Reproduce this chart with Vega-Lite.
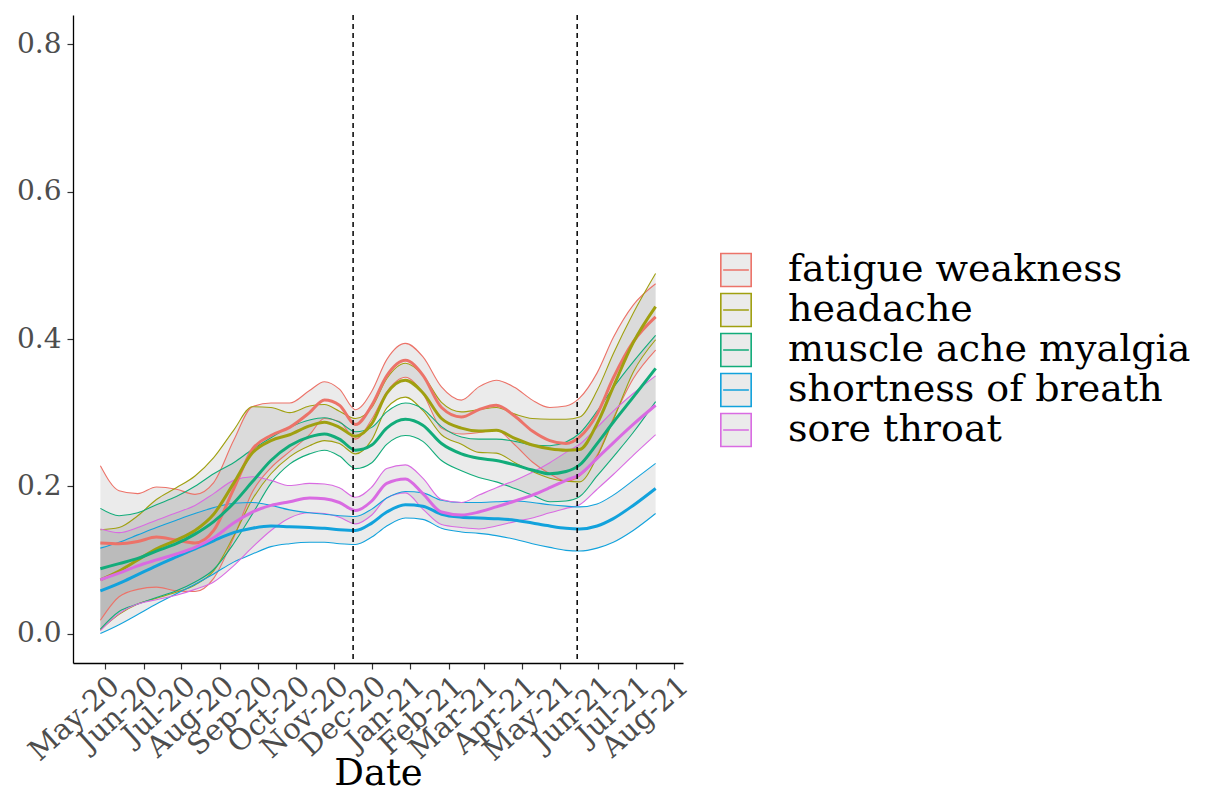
{
  "$schema": "https://vega.github.io/schema/vega-lite/v6.json",
  "width": 610,
  "height": 648,
  "autosize": {"type": "none"},
  "padding": {"left": 73, "top": 15, "right": 537, "bottom": 131},
  "background": "white",
  "config": {"view": {"stroke": null}, "font": "DejaVu Serif"},
  "datasets": {
    "vlines": [{"d": "2020-11-16"}, {"d": "2021-05-15"}],
    "smooth": [
      {"s":"fatigue weakness","date":"2020-04-27","lo":0.018,"mean":0.123,"hi":0.228},
      {"s":"fatigue weakness","date":"2020-05-12","lo":0.050,"mean":0.122,"hi":0.194},
      {"s":"fatigue weakness","date":"2020-05-27","lo":0.060,"mean":0.125,"hi":0.190},
      {"s":"fatigue weakness","date":"2020-06-11","lo":0.063,"mean":0.131,"hi":0.199},
      {"s":"fatigue weakness","date":"2020-06-27","lo":0.058,"mean":0.127,"hi":0.196},
      {"s":"fatigue weakness","date":"2020-07-12","lo":0.057,"mean":0.123,"hi":0.189},
      {"s":"fatigue weakness","date":"2020-07-27","lo":0.075,"mean":0.140,"hi":0.205},
      {"s":"fatigue weakness","date":"2020-08-12","lo":0.130,"mean":0.196,"hi":0.262},
      {"s":"fatigue weakness","date":"2020-08-27","lo":0.192,"mean":0.250,"hi":0.308},
      {"s":"fatigue weakness","date":"2020-09-11","lo":0.225,"mean":0.269,"hi":0.313},
      {"s":"fatigue weakness","date":"2020-09-26","lo":0.247,"mean":0.280,"hi":0.313},
      {"s":"fatigue weakness","date":"2020-10-12","lo":0.270,"mean":0.300,"hi":0.330},
      {"s":"fatigue weakness","date":"2020-10-24","lo":0.292,"mean":0.317,"hi":0.342},
      {"s":"fatigue weakness","date":"2020-11-05","lo":0.288,"mean":0.310,"hi":0.332},
      {"s":"fatigue weakness","date":"2020-11-18","lo":0.264,"mean":0.284,"hi":0.304},
      {"s":"fatigue weakness","date":"2020-12-01","lo":0.291,"mean":0.310,"hi":0.329},
      {"s":"fatigue weakness","date":"2020-12-13","lo":0.328,"mean":0.350,"hi":0.372},
      {"s":"fatigue weakness","date":"2020-12-28","lo":0.348,"mean":0.371,"hi":0.394},
      {"s":"fatigue weakness","date":"2021-01-11","lo":0.326,"mean":0.351,"hi":0.376},
      {"s":"fatigue weakness","date":"2021-01-26","lo":0.279,"mean":0.307,"hi":0.335},
      {"s":"fatigue weakness","date":"2021-02-11","lo":0.271,"mean":0.294,"hi":0.317},
      {"s":"fatigue weakness","date":"2021-02-25","lo":0.273,"mean":0.304,"hi":0.335},
      {"s":"fatigue weakness","date":"2021-03-11","lo":0.276,"mean":0.310,"hi":0.344},
      {"s":"fatigue weakness","date":"2021-03-26","lo":0.256,"mean":0.295,"hi":0.334},
      {"s":"fatigue weakness","date":"2021-04-09","lo":0.233,"mean":0.275,"hi":0.317},
      {"s":"fatigue weakness","date":"2021-04-23","lo":0.217,"mean":0.262,"hi":0.307},
      {"s":"fatigue weakness","date":"2021-05-06","lo":0.207,"mean":0.258,"hi":0.309},
      {"s":"fatigue weakness","date":"2021-05-17","lo":0.214,"mean":0.267,"hi":0.320},
      {"s":"fatigue weakness","date":"2021-05-31","lo":0.242,"mean":0.298,"hi":0.354},
      {"s":"fatigue weakness","date":"2021-06-13","lo":0.292,"mean":0.347,"hi":0.402},
      {"s":"fatigue weakness","date":"2021-06-29","lo":0.346,"mean":0.396,"hi":0.446},
      {"s":"fatigue weakness","date":"2021-07-17","lo":0.385,"mean":0.430,"hi":0.475},

      {"s":"headache","date":"2020-04-27","lo":0.005,"mean":0.073,"hi":0.141},
      {"s":"headache","date":"2020-05-12","lo":0.026,"mean":0.085,"hi":0.144},
      {"s":"headache","date":"2020-05-27","lo":0.040,"mean":0.100,"hi":0.160},
      {"s":"headache","date":"2020-06-11","lo":0.048,"mean":0.115,"hi":0.182},
      {"s":"headache","date":"2020-06-27","lo":0.056,"mean":0.127,"hi":0.198},
      {"s":"headache","date":"2020-07-12","lo":0.066,"mean":0.140,"hi":0.214},
      {"s":"headache","date":"2020-07-27","lo":0.085,"mean":0.162,"hi":0.239},
      {"s":"headache","date":"2020-08-12","lo":0.132,"mean":0.204,"hi":0.276},
      {"s":"headache","date":"2020-08-27","lo":0.182,"mean":0.245,"hi":0.308},
      {"s":"headache","date":"2020-09-11","lo":0.217,"mean":0.262,"hi":0.307},
      {"s":"headache","date":"2020-09-26","lo":0.240,"mean":0.270,"hi":0.300},
      {"s":"headache","date":"2020-10-12","lo":0.255,"mean":0.282,"hi":0.309},
      {"s":"headache","date":"2020-10-24","lo":0.262,"mean":0.287,"hi":0.311},
      {"s":"headache","date":"2020-11-05","lo":0.258,"mean":0.280,"hi":0.302},
      {"s":"headache","date":"2020-11-18","lo":0.244,"mean":0.268,"hi":0.292},
      {"s":"headache","date":"2020-12-01","lo":0.263,"mean":0.285,"hi":0.307},
      {"s":"headache","date":"2020-12-13","lo":0.306,"mean":0.326,"hi":0.346},
      {"s":"headache","date":"2020-12-28","lo":0.321,"mean":0.344,"hi":0.367},
      {"s":"headache","date":"2021-01-11","lo":0.303,"mean":0.327,"hi":0.351},
      {"s":"headache","date":"2021-01-26","lo":0.270,"mean":0.292,"hi":0.314},
      {"s":"headache","date":"2021-02-11","lo":0.257,"mean":0.279,"hi":0.301},
      {"s":"headache","date":"2021-02-25","lo":0.246,"mean":0.275,"hi":0.304},
      {"s":"headache","date":"2021-03-11","lo":0.245,"mean":0.276,"hi":0.307},
      {"s":"headache","date":"2021-03-26","lo":0.232,"mean":0.265,"hi":0.298},
      {"s":"headache","date":"2021-04-09","lo":0.220,"mean":0.256,"hi":0.292},
      {"s":"headache","date":"2021-04-23","lo":0.211,"mean":0.251,"hi":0.291},
      {"s":"headache","date":"2021-05-06","lo":0.207,"mean":0.249,"hi":0.291},
      {"s":"headache","date":"2021-05-17","lo":0.206,"mean":0.250,"hi":0.294},
      {"s":"headache","date":"2021-05-31","lo":0.240,"mean":0.285,"hi":0.330},
      {"s":"headache","date":"2021-06-13","lo":0.290,"mean":0.335,"hi":0.380},
      {"s":"headache","date":"2021-06-29","lo":0.355,"mean":0.395,"hi":0.435},
      {"s":"headache","date":"2021-07-17","lo":0.399,"mean":0.444,"hi":0.489},

      {"s":"muscle ache myalgia","date":"2020-04-27","lo":0.006,"mean":0.088,"hi":0.170},
      {"s":"muscle ache myalgia","date":"2020-05-12","lo":0.030,"mean":0.095,"hi":0.160},
      {"s":"muscle ache myalgia","date":"2020-05-27","lo":0.040,"mean":0.102,"hi":0.164},
      {"s":"muscle ache myalgia","date":"2020-06-11","lo":0.049,"mean":0.112,"hi":0.175},
      {"s":"muscle ache myalgia","date":"2020-06-27","lo":0.058,"mean":0.122,"hi":0.186},
      {"s":"muscle ache myalgia","date":"2020-07-12","lo":0.070,"mean":0.135,"hi":0.200},
      {"s":"muscle ache myalgia","date":"2020-07-27","lo":0.087,"mean":0.152,"hi":0.217},
      {"s":"muscle ache myalgia","date":"2020-08-12","lo":0.122,"mean":0.177,"hi":0.232},
      {"s":"muscle ache myalgia","date":"2020-08-27","lo":0.162,"mean":0.206,"hi":0.250},
      {"s":"muscle ache myalgia","date":"2020-09-11","lo":0.204,"mean":0.235,"hi":0.266},
      {"s":"muscle ache myalgia","date":"2020-09-26","lo":0.230,"mean":0.255,"hi":0.280},
      {"s":"muscle ache myalgia","date":"2020-10-12","lo":0.244,"mean":0.267,"hi":0.290},
      {"s":"muscle ache myalgia","date":"2020-10-24","lo":0.249,"mean":0.271,"hi":0.293},
      {"s":"muscle ache myalgia","date":"2020-11-05","lo":0.241,"mean":0.264,"hi":0.287},
      {"s":"muscle ache myalgia","date":"2020-11-18","lo":0.224,"mean":0.249,"hi":0.274},
      {"s":"muscle ache myalgia","date":"2020-12-01","lo":0.232,"mean":0.256,"hi":0.280},
      {"s":"muscle ache myalgia","date":"2020-12-13","lo":0.257,"mean":0.279,"hi":0.301},
      {"s":"muscle ache myalgia","date":"2020-12-28","lo":0.269,"mean":0.291,"hi":0.313},
      {"s":"muscle ache myalgia","date":"2021-01-11","lo":0.261,"mean":0.283,"hi":0.305},
      {"s":"muscle ache myalgia","date":"2021-01-26","lo":0.235,"mean":0.258,"hi":0.281},
      {"s":"muscle ache myalgia","date":"2021-02-11","lo":0.221,"mean":0.244,"hi":0.267},
      {"s":"muscle ache myalgia","date":"2021-02-25","lo":0.212,"mean":0.238,"hi":0.264},
      {"s":"muscle ache myalgia","date":"2021-03-11","lo":0.206,"mean":0.235,"hi":0.264},
      {"s":"muscle ache myalgia","date":"2021-03-26","lo":0.197,"mean":0.229,"hi":0.261},
      {"s":"muscle ache myalgia","date":"2021-04-09","lo":0.188,"mean":0.222,"hi":0.256},
      {"s":"muscle ache myalgia","date":"2021-04-23","lo":0.179,"mean":0.217,"hi":0.255},
      {"s":"muscle ache myalgia","date":"2021-05-06","lo":0.180,"mean":0.220,"hi":0.260},
      {"s":"muscle ache myalgia","date":"2021-05-17","lo":0.186,"mean":0.229,"hi":0.272},
      {"s":"muscle ache myalgia","date":"2021-05-31","lo":0.214,"mean":0.258,"hi":0.302},
      {"s":"muscle ache myalgia","date":"2021-06-13","lo":0.240,"mean":0.287,"hi":0.334},
      {"s":"muscle ache myalgia","date":"2021-06-29","lo":0.273,"mean":0.321,"hi":0.369},
      {"s":"muscle ache myalgia","date":"2021-07-17","lo":0.315,"mean":0.360,"hi":0.405},

      {"s":"shortness of breath","date":"2020-04-27","lo":0.000,"mean":0.058,"hi":0.116},
      {"s":"shortness of breath","date":"2020-05-12","lo":0.012,"mean":0.068,"hi":0.124},
      {"s":"shortness of breath","date":"2020-05-27","lo":0.026,"mean":0.080,"hi":0.134},
      {"s":"shortness of breath","date":"2020-06-11","lo":0.040,"mean":0.092,"hi":0.144},
      {"s":"shortness of breath","date":"2020-06-27","lo":0.054,"mean":0.104,"hi":0.154},
      {"s":"shortness of breath","date":"2020-07-12","lo":0.067,"mean":0.115,"hi":0.163},
      {"s":"shortness of breath","date":"2020-07-27","lo":0.081,"mean":0.126,"hi":0.171},
      {"s":"shortness of breath","date":"2020-08-12","lo":0.097,"mean":0.137,"hi":0.177},
      {"s":"shortness of breath","date":"2020-08-27","lo":0.108,"mean":0.143,"hi":0.178},
      {"s":"shortness of breath","date":"2020-09-11","lo":0.118,"mean":0.146,"hi":0.174},
      {"s":"shortness of breath","date":"2020-09-26","lo":0.122,"mean":0.145,"hi":0.168},
      {"s":"shortness of breath","date":"2020-10-12","lo":0.124,"mean":0.144,"hi":0.164},
      {"s":"shortness of breath","date":"2020-10-24","lo":0.124,"mean":0.143,"hi":0.162},
      {"s":"shortness of breath","date":"2020-11-05","lo":0.122,"mean":0.141,"hi":0.160},
      {"s":"shortness of breath","date":"2020-11-18","lo":0.121,"mean":0.140,"hi":0.159},
      {"s":"shortness of breath","date":"2020-12-01","lo":0.131,"mean":0.150,"hi":0.169},
      {"s":"shortness of breath","date":"2020-12-13","lo":0.146,"mean":0.165,"hi":0.184},
      {"s":"shortness of breath","date":"2020-12-28","lo":0.157,"mean":0.175,"hi":0.193},
      {"s":"shortness of breath","date":"2021-01-11","lo":0.155,"mean":0.173,"hi":0.191},
      {"s":"shortness of breath","date":"2021-01-26","lo":0.143,"mean":0.162,"hi":0.181},
      {"s":"shortness of breath","date":"2021-02-11","lo":0.138,"mean":0.158,"hi":0.178},
      {"s":"shortness of breath","date":"2021-02-25","lo":0.136,"mean":0.157,"hi":0.178},
      {"s":"shortness of breath","date":"2021-03-11","lo":0.133,"mean":0.156,"hi":0.179},
      {"s":"shortness of breath","date":"2021-03-26","lo":0.128,"mean":0.154,"hi":0.180},
      {"s":"shortness of breath","date":"2021-04-09","lo":0.122,"mean":0.150,"hi":0.178},
      {"s":"shortness of breath","date":"2021-04-23","lo":0.117,"mean":0.146,"hi":0.175},
      {"s":"shortness of breath","date":"2021-05-06","lo":0.113,"mean":0.143,"hi":0.173},
      {"s":"shortness of breath","date":"2021-05-17","lo":0.112,"mean":0.142,"hi":0.172},
      {"s":"shortness of breath","date":"2021-05-31","lo":0.116,"mean":0.146,"hi":0.176},
      {"s":"shortness of breath","date":"2021-06-13","lo":0.124,"mean":0.156,"hi":0.188},
      {"s":"shortness of breath","date":"2021-06-29","lo":0.140,"mean":0.174,"hi":0.208},
      {"s":"shortness of breath","date":"2021-07-17","lo":0.163,"mean":0.197,"hi":0.231},

      {"s":"sore throat","date":"2020-04-27","lo":0.004,"mean":0.073,"hi":0.142},
      {"s":"sore throat","date":"2020-05-12","lo":0.027,"mean":0.082,"hi":0.137},
      {"s":"sore throat","date":"2020-05-27","lo":0.040,"mean":0.092,"hi":0.144},
      {"s":"sore throat","date":"2020-06-11","lo":0.046,"mean":0.100,"hi":0.154},
      {"s":"sore throat","date":"2020-06-27","lo":0.052,"mean":0.108,"hi":0.164},
      {"s":"sore throat","date":"2020-07-12","lo":0.060,"mean":0.117,"hi":0.174},
      {"s":"sore throat","date":"2020-07-27","lo":0.070,"mean":0.130,"hi":0.190},
      {"s":"sore throat","date":"2020-08-12","lo":0.092,"mean":0.150,"hi":0.208},
      {"s":"sore throat","date":"2020-08-27","lo":0.117,"mean":0.165,"hi":0.213},
      {"s":"sore throat","date":"2020-09-11","lo":0.140,"mean":0.174,"hi":0.208},
      {"s":"sore throat","date":"2020-09-26","lo":0.157,"mean":0.179,"hi":0.201},
      {"s":"sore throat","date":"2020-10-12","lo":0.164,"mean":0.184,"hi":0.204},
      {"s":"sore throat","date":"2020-10-24","lo":0.163,"mean":0.183,"hi":0.203},
      {"s":"sore throat","date":"2020-11-05","lo":0.158,"mean":0.178,"hi":0.198},
      {"s":"sore throat","date":"2020-11-18","lo":0.149,"mean":0.167,"hi":0.185},
      {"s":"sore throat","date":"2020-12-01","lo":0.161,"mean":0.180,"hi":0.199},
      {"s":"sore throat","date":"2020-12-13","lo":0.184,"mean":0.204,"hi":0.224},
      {"s":"sore throat","date":"2020-12-28","lo":0.191,"mean":0.210,"hi":0.229},
      {"s":"sore throat","date":"2021-01-11","lo":0.169,"mean":0.190,"hi":0.211},
      {"s":"sore throat","date":"2021-01-26","lo":0.148,"mean":0.165,"hi":0.182},
      {"s":"sore throat","date":"2021-02-11","lo":0.144,"mean":0.161,"hi":0.178},
      {"s":"sore throat","date":"2021-02-25","lo":0.142,"mean":0.165,"hi":0.188},
      {"s":"sore throat","date":"2021-03-11","lo":0.146,"mean":0.172,"hi":0.198},
      {"s":"sore throat","date":"2021-03-26","lo":0.152,"mean":0.180,"hi":0.208},
      {"s":"sore throat","date":"2021-04-09","lo":0.157,"mean":0.188,"hi":0.219},
      {"s":"sore throat","date":"2021-04-23","lo":0.164,"mean":0.198,"hi":0.232},
      {"s":"sore throat","date":"2021-05-06","lo":0.170,"mean":0.208,"hi":0.246},
      {"s":"sore throat","date":"2021-05-17","lo":0.175,"mean":0.216,"hi":0.257},
      {"s":"sore throat","date":"2021-05-31","lo":0.196,"mean":0.238,"hi":0.280},
      {"s":"sore throat","date":"2021-06-13","lo":0.216,"mean":0.259,"hi":0.302},
      {"s":"sore throat","date":"2021-06-29","lo":0.242,"mean":0.284,"hi":0.326},
      {"s":"sore throat","date":"2021-07-17","lo":0.270,"mean":0.310,"hi":0.350}
    ]
  },
  "layer": [
    {
      "data": {"name": "smooth"},
      "mark": {"type": "area", "interpolate": "monotone", "fill": "#999999", "fillOpacity": 0.2},
      "encoding": {
        "x": {
          "field": "date", "type": "temporal", "title": "Date",
          "scale": {"type": "utc", "domain": [{"year": 2020, "month": 4, "date": 5, "utc": true}, {"year": 2021, "month": 8, "date": 8, "utc": true}]},
          "axis": {
            "values": [
              {"year": 2020, "month": 5, "date": 1, "utc": true},
              {"year": 2020, "month": 6, "date": 1, "utc": true},
              {"year": 2020, "month": 7, "date": 1, "utc": true},
              {"year": 2020, "month": 8, "date": 1, "utc": true},
              {"year": 2020, "month": 9, "date": 1, "utc": true},
              {"year": 2020, "month": 10, "date": 1, "utc": true},
              {"year": 2020, "month": 11, "date": 1, "utc": true},
              {"year": 2020, "month": 12, "date": 1, "utc": true},
              {"year": 2021, "month": 1, "date": 1, "utc": true},
              {"year": 2021, "month": 2, "date": 1, "utc": true},
              {"year": 2021, "month": 3, "date": 1, "utc": true},
              {"year": 2021, "month": 4, "date": 1, "utc": true},
              {"year": 2021, "month": 5, "date": 1, "utc": true},
              {"year": 2021, "month": 6, "date": 1, "utc": true},
              {"year": 2021, "month": 7, "date": 1, "utc": true},
              {"year": 2021, "month": 8, "date": 1, "utc": true}
            ],
            "labelExpr": "utcFormat(datum.value, '%b-%y')",
            "labelAngle": -42, "labelAlign": "right", "labelBaseline": "top",
            "labelFont": "DejaVu Serif", "labelFontSize": 29, "labelColor": "#4D4D4D",
            "labelOverlap": false, "labelFlush": false, "labelPadding": 2,
            "tickSize": 6, "tickColor": "#333333", "tickWidth": 1.2,
            "domainColor": "#000000", "domainWidth": 1.3, "grid": false,
            "titleFont": "DejaVu Serif", "titleFontSize": 37, "titleFontWeight": "normal",
            "titleColor": "#000000", "titleBaseline": "alphabetic", "titleY": 121
          }
        },
        "y": {
          "field": "lo", "type": "quantitative",
          "scale": {"domain": [-0.04, 0.84], "nice": false, "zero": false},
          "axis": {
            "values": [0, 0.2, 0.4, 0.6, 0.8], "format": ".1f", "title": null,
            "labelFont": "DejaVu Serif", "labelFontSize": 28, "labelColor": "#4D4D4D",
            "labelPadding": 6, "tickSize": 6, "tickColor": "#333333", "tickWidth": 1.2,
            "domainColor": "#000000", "domainWidth": 1.3, "grid": false
          }
        },
        "y2": {"field": "hi"},
        "detail": {"field": "s", "type": "nominal"}
      }
    },
    {
      "data": {"name": "smooth"},
      "mark": {"type": "line", "interpolate": "monotone", "strokeWidth": 1.1},
      "encoding": {
        "x": {"field": "date", "type": "temporal"},
        "y": {"field": "lo", "type": "quantitative"},
        "color": {"field": "s", "type": "nominal"}
      }
    },
    {
      "data": {"name": "smooth"},
      "mark": {"type": "line", "interpolate": "monotone", "strokeWidth": 1.1},
      "encoding": {
        "x": {"field": "date", "type": "temporal"},
        "y": {"field": "hi", "type": "quantitative"},
        "color": {"field": "s", "type": "nominal"}
      }
    },
    {
      "data": {"name": "smooth"},
      "mark": {"type": "line", "interpolate": "monotone", "strokeWidth": 3},
      "encoding": {
        "x": {"field": "date", "type": "temporal"},
        "y": {"field": "mean", "type": "quantitative"},
        "color": {
          "field": "s", "type": "nominal",
          "scale": {
            "domain": ["fatigue weakness", "headache", "muscle ache myalgia", "shortness of breath", "sore throat"],
            "range": ["#EC7369", "#A0A010", "#12AC7A", "#12A2DC", "#D96BE2"]
          },
          "legend": {
            "title": null, "orient": "none", "legendX": 644, "legendY": 236,
            "symbolType": "M-0.92,-1H0.92V1H-0.92Z M-0.78,0H0.78",
            "symbolSize": 1089, "symbolFillColor": "#EBEBEB", "symbolStrokeWidth": 1.6,
            "symbolOpacity": 1, "labelFont": "DejaVu Serif", "labelFontSize": 38,
            "labelColor": "#000000", "labelOffset": 33, "rowPadding": 0, "padding": 0,
            "labelLimit": 600, "symbolOffset": 0, "labelBaseline": "middle"
          }
        }
      }
    },
    {
      "data": {"name": "vlines"},
      "mark": {"type": "rule", "strokeDash": [5, 4], "strokeWidth": 1.5, "color": "#000000"},
      "encoding": {
        "x": {"field": "d", "type": "temporal"}
      }
    }
  ]
}
